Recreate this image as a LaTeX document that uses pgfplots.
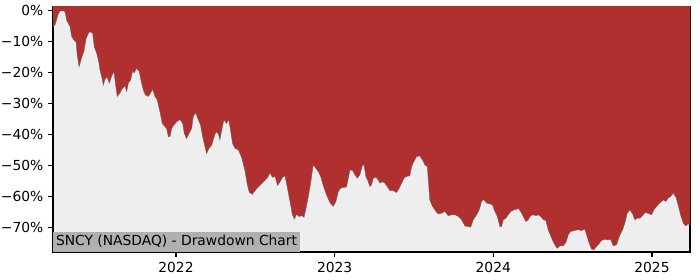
\documentclass[border=0pt]{standalone}
\usepackage{pgfplots}
\pgfplotsset{compat=1.18}
\usepackage{fontspec}
\setmainfont{DejaVu Sans}
\definecolor{ddred}{HTML}{B03030}
\definecolor{bggray}{HTML}{EEEEEE}
\definecolor{boxgray}{HTML}{B0B0B0}
\begin{document}
\begin{tikzpicture}
\useasboundingbox (-38.3pt,-20.2pt) rectangle (467.6pt,182.1pt);
\begin{axis}[
  at={(0,0)}, anchor=south west,
  scale only axis, width=460.4pt, height=177.1pt,
  xmin=2021.225, xmax=2025.24, ymin=-77.8, ymax=1.3,
  axis background/.style={fill=bggray},
  axis line style={line width=0.8pt, black},
  tick style={line width=0.8pt, black},
  tick align=outside, major tick length=3.5pt,
  xtick={2022,2023,2024,2025}, xticklabels={2022,2023,2024,2025},
  ytick={-70,-60,-50,-40,-30,-20,-10,0},
  yticklabels={−70\%,−60\%,−50\%,−40\%,−30\%,−20\%,−10\%,0\%},
  xtick pos=bottom, ytick pos=left,
  ticklabel style={font=\fontsize{10pt}{12pt}\selectfont},
  xticklabel style={yshift=-0.5pt},
  /pgf/number format/assume math mode=true,
  clip=true,
]
\addplot[fill=ddred, draw=gray!80!black, line width=0.3pt] coordinates {
(2021.225,5) (2021.227,-5.0) (2021.238,-4.5) (2021.259,-0.8) (2021.270,0) (2021.280,0) (2021.295,0) (2021.301,-0.3)
(2021.311,-2.9) (2021.332,-5.0) (2021.343,-8.3) (2021.357,-9.4) (2021.370,-10.0) (2021.378,-14.2)
(2021.389,-18.0) (2021.395,-17.0) (2021.406,-15.0) (2021.420,-13.0) (2021.433,-9.0) (2021.448,-7.2)
(2021.458,-6.7) (2021.475,-7.2) (2021.485,-11.5) (2021.500,-13.6) (2021.513,-16.3) (2021.521,-19.0)
(2021.532,-21.2) (2021.542,-23.9) (2021.553,-22.0) (2021.567,-21.4) (2021.580,-23.3) (2021.595,-21.0)
(2021.609,-19.6) (2021.620,-23.9) (2021.630,-27.6) (2021.647,-26.5) (2021.662,-25.0) (2021.679,-24.2)
(2021.689,-26.0) (2021.700,-23.3) (2021.714,-22.3) (2021.727,-19.3) (2021.737,-20.0) (2021.752,-18.5)
(2021.769,-19.6) (2021.779,-22.3) (2021.794,-25.5) (2021.807,-27.1) (2021.826,-27.6) (2021.840,-26.5)
(2021.853,-25.3) (2021.868,-27.6) (2021.882,-28.7) (2021.899,-32.5) (2021.914,-36.3) (2021.926,-37.1)
(2021.941,-37.9) (2021.952,-40.6) (2021.962,-40.6) (2021.973,-37.9) (2021.987,-36.8) (2022.004,-35.8)
(2022.025,-35.0) (2022.042,-36.3) (2022.053,-39.6) (2022.067,-41.2) (2022.082,-39.6) (2022.099,-37.9)
(2022.109,-34.1) (2022.124,-32.8) (2022.141,-35.2) (2022.155,-36.8) (2022.168,-40.6) (2022.183,-43.8)
(2022.193,-46.0) (2022.208,-44.4) (2022.225,-43.3) (2022.235,-41.6) (2022.252,-39.0) (2022.267,-39.6)
(2022.277,-41.6) (2022.288,-38.5) (2022.302,-35.2) (2022.319,-36.3) (2022.332,-35.0) (2022.344,-38.5)
(2022.357,-42.8) (2022.372,-44.4) (2022.393,-44.8) (2022.414,-47.3) (2022.435,-51.6) (2022.449,-55.8)
(2022.462,-58.5) (2022.481,-59.2) (2022.498,-58.0) (2022.519,-56.8) (2022.540,-55.8) (2022.561,-54.7)
(2022.578,-53.7) (2022.592,-52.3) (2022.609,-53.7) (2022.624,-53.4) (2022.641,-56.3) (2022.655,-55.2)
(2022.672,-53.7) (2022.687,-53.2) (2022.702,-57.0) (2022.718,-61.3) (2022.733,-65.6) (2022.746,-67.2)
(2022.760,-65.6) (2022.777,-66.4) (2022.792,-66.0) (2022.807,-66.6) (2022.819,-63.8) (2022.834,-60.0)
(2022.849,-55.5) (2022.865,-49.7) (2022.880,-50.7) (2022.897,-51.8) (2022.912,-53.4) (2022.928,-56.3)
(2022.949,-59.4) (2022.970,-61.8) (2022.991,-63.1) (2023.008,-61.5) (2023.023,-58.3) (2023.038,-57.2)
(2023.054,-57.0) (2023.075,-56.8) (2023.092,-52.5) (2023.096,-51.3) (2023.113,-51.5) (2023.128,-52.9)
(2023.143,-54.0) (2023.159,-52.9) (2023.176,-49.7) (2023.185,-49.7) (2023.197,-53.4) (2023.212,-55.1)
(2023.222,-56.7) (2023.233,-56.1) (2023.243,-54.0) (2023.260,-53.7) (2023.275,-54.5) (2023.285,-55.6)
(2023.300,-55.1) (2023.317,-55.6) (2023.332,-56.7) (2023.348,-58.0) (2023.369,-58.0) (2023.390,-58.6)
(2023.407,-57.2) (2023.422,-55.6) (2023.437,-54.0) (2023.453,-53.4) (2023.474,-53.2) (2023.485,-50.2)
(2023.500,-48.6) (2023.516,-47.0) (2023.537,-46.8) (2023.554,-48.1) (2023.569,-49.7) (2023.584,-50.2)
(2023.592,-55.6) (2023.600,-61.0) (2023.617,-63.1) (2023.638,-64.7) (2023.653,-65.5) (2023.674,-65.3)
(2023.695,-64.7) (2023.716,-66.1) (2023.737,-65.8) (2023.758,-65.8) (2023.779,-66.3) (2023.800,-67.4)
(2023.821,-69.4) (2023.842,-69.6) (2023.857,-69.8) (2023.874,-67.4) (2023.895,-65.8) (2023.911,-64.2)
(2023.926,-61.5) (2023.937,-60.8) (2023.958,-62.0) (2023.979,-62.3) (2023.995,-62.6) (2024.010,-64.7)
(2024.025,-66.3) (2024.042,-69.6) (2024.052,-69.6) (2024.063,-67.4) (2024.079,-66.9) (2024.094,-65.8)
(2024.111,-64.7) (2024.130,-64.2) (2024.147,-64.0) (2024.157,-63.7) (2024.172,-64.7) (2024.189,-66.3)
(2024.205,-68.0) (2024.220,-67.4) (2024.235,-66.1) (2024.252,-65.8) (2024.268,-66.1) (2024.283,-65.8)
(2024.298,-66.3) (2024.315,-67.4) (2024.331,-67.6) (2024.346,-70.6) (2024.367,-73.3) (2024.388,-75.5)
(2024.403,-76.6) (2024.420,-75.8) (2024.441,-75.8) (2024.458,-74.7) (2024.472,-72.3) (2024.487,-71.2)
(2024.508,-70.9) (2024.535,-70.6) (2024.556,-70.9) (2024.577,-70.4) (2024.588,-72.3) (2024.605,-75.0)
(2024.619,-76.9) (2024.634,-77.1) (2024.651,-76.0) (2024.668,-75.0) (2024.682,-74.1) (2024.703,-73.7)
(2024.724,-73.9) (2024.739,-73.7) (2024.756,-75.8) (2024.777,-75.5) (2024.794,-72.8) (2024.815,-70.6)
(2024.829,-68.5) (2024.844,-65.3) (2024.861,-64.2) (2024.878,-65.5) (2024.892,-67.4) (2024.907,-66.9)
(2024.924,-66.9) (2024.941,-66.1) (2024.955,-65.1) (2024.976,-65.3) (2024.997,-65.8) (2025.012,-64.2)
(2025.029,-63.1) (2025.050,-62.0) (2025.071,-61.0) (2025.088,-61.5) (2025.102,-60.4) (2025.117,-59.9)
(2025.134,-58.8) (2025.151,-60.1) (2025.165,-62.6) (2025.180,-65.8) (2025.197,-68.5) (2025.214,-69.4)
(2025.228,-68.7) (2025.235,-69.0) (2025.24,-69.0) (2025.24,5)
};
\node[anchor=south west, fill=boxgray, inner xsep=2pt, inner ysep=2pt, text height=7.6pt, text depth=2.3pt, font=\fontsize{10pt}{12pt}\selectfont] at (rel axis cs:0,0) {SNCY (NASDAQ) - Drawdown Chart};
\end{axis}
\end{tikzpicture}
\end{document}
